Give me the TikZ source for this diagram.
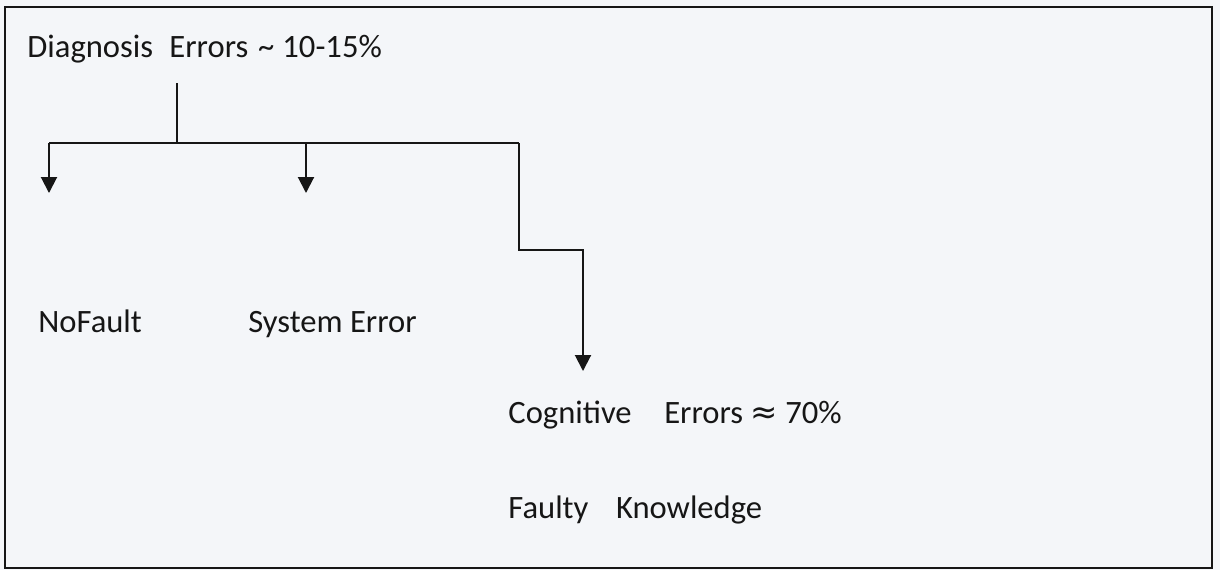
\documentclass[tikz,border=0pt]{standalone}
\usepackage{fontspec}
\setmainfont{Carlito}
\newfontfamily\symfont{DejaVu Sans}
\usetikzlibrary{arrows.meta}
\definecolor{scanpaper}{HTML}{F4F6F9}
\definecolor{inkline}{HTML}{161616}

\begin{document}
\begin{tikzpicture}[x=0.5pt,y=-0.5pt,
    lbl/.style={anchor=base west, inner sep=0pt, text=inkline,
                font=\fontsize{16.3}{19}\selectfont},
    branch/.style={draw=inkline, line width=1pt},
    drop/.style={branch, -{Triangle[length=8pt,width=8pt]}}]
  % Paper and frame
  \fill[scanpaper] (0,0) rectangle (1220,570);
  \draw[inkline, line width=1.3pt] (5,7) rectangle (1212,568);

  % Labels
  \node[lbl] (diag) at (27,57) {Diagnosis\hspace{0.5em}Errors\hspace{0.3em}\textasciitilde\hspace{0.25em}10-15\%};
  \node[lbl] (nofault) at (38,332) {NoFault};
  \node[lbl] (syserr) at (248,332) {System Error};
  \node[lbl] (cogerr) at (508,423) {Cognitive\hspace{1em}Errors {\symfont ≈} 70\%};
  \node[lbl] (faulty) at (508,518) {Faulty\hspace{0.85em}Knowledge};

  % Branch points
  \coordinate (stem) at (177,83);
  \coordinate (split) at (177,143);
  \coordinate (jL) at (49,143);
  \coordinate (jM) at (306,143);
  \coordinate (jR) at (519,143);
  \coordinate (kneeA) at (519,250);
  \coordinate (kneeB) at (583,250);
  \coordinate (tipL) at (49,193);
  \coordinate (tipM) at (306,193);
  \coordinate (tipR) at (583,371);

  % Connectors
  \draw[branch] (stem) -- (split);
  \draw[branch] (jL) -- (jR);
  \draw[drop] (jL) -- (tipL);
  \draw[drop] (jM) -- (tipM);
  \draw[drop] (jR) -- (kneeA) -- (kneeB) -- (tipR);
\end{tikzpicture}
\end{document}
